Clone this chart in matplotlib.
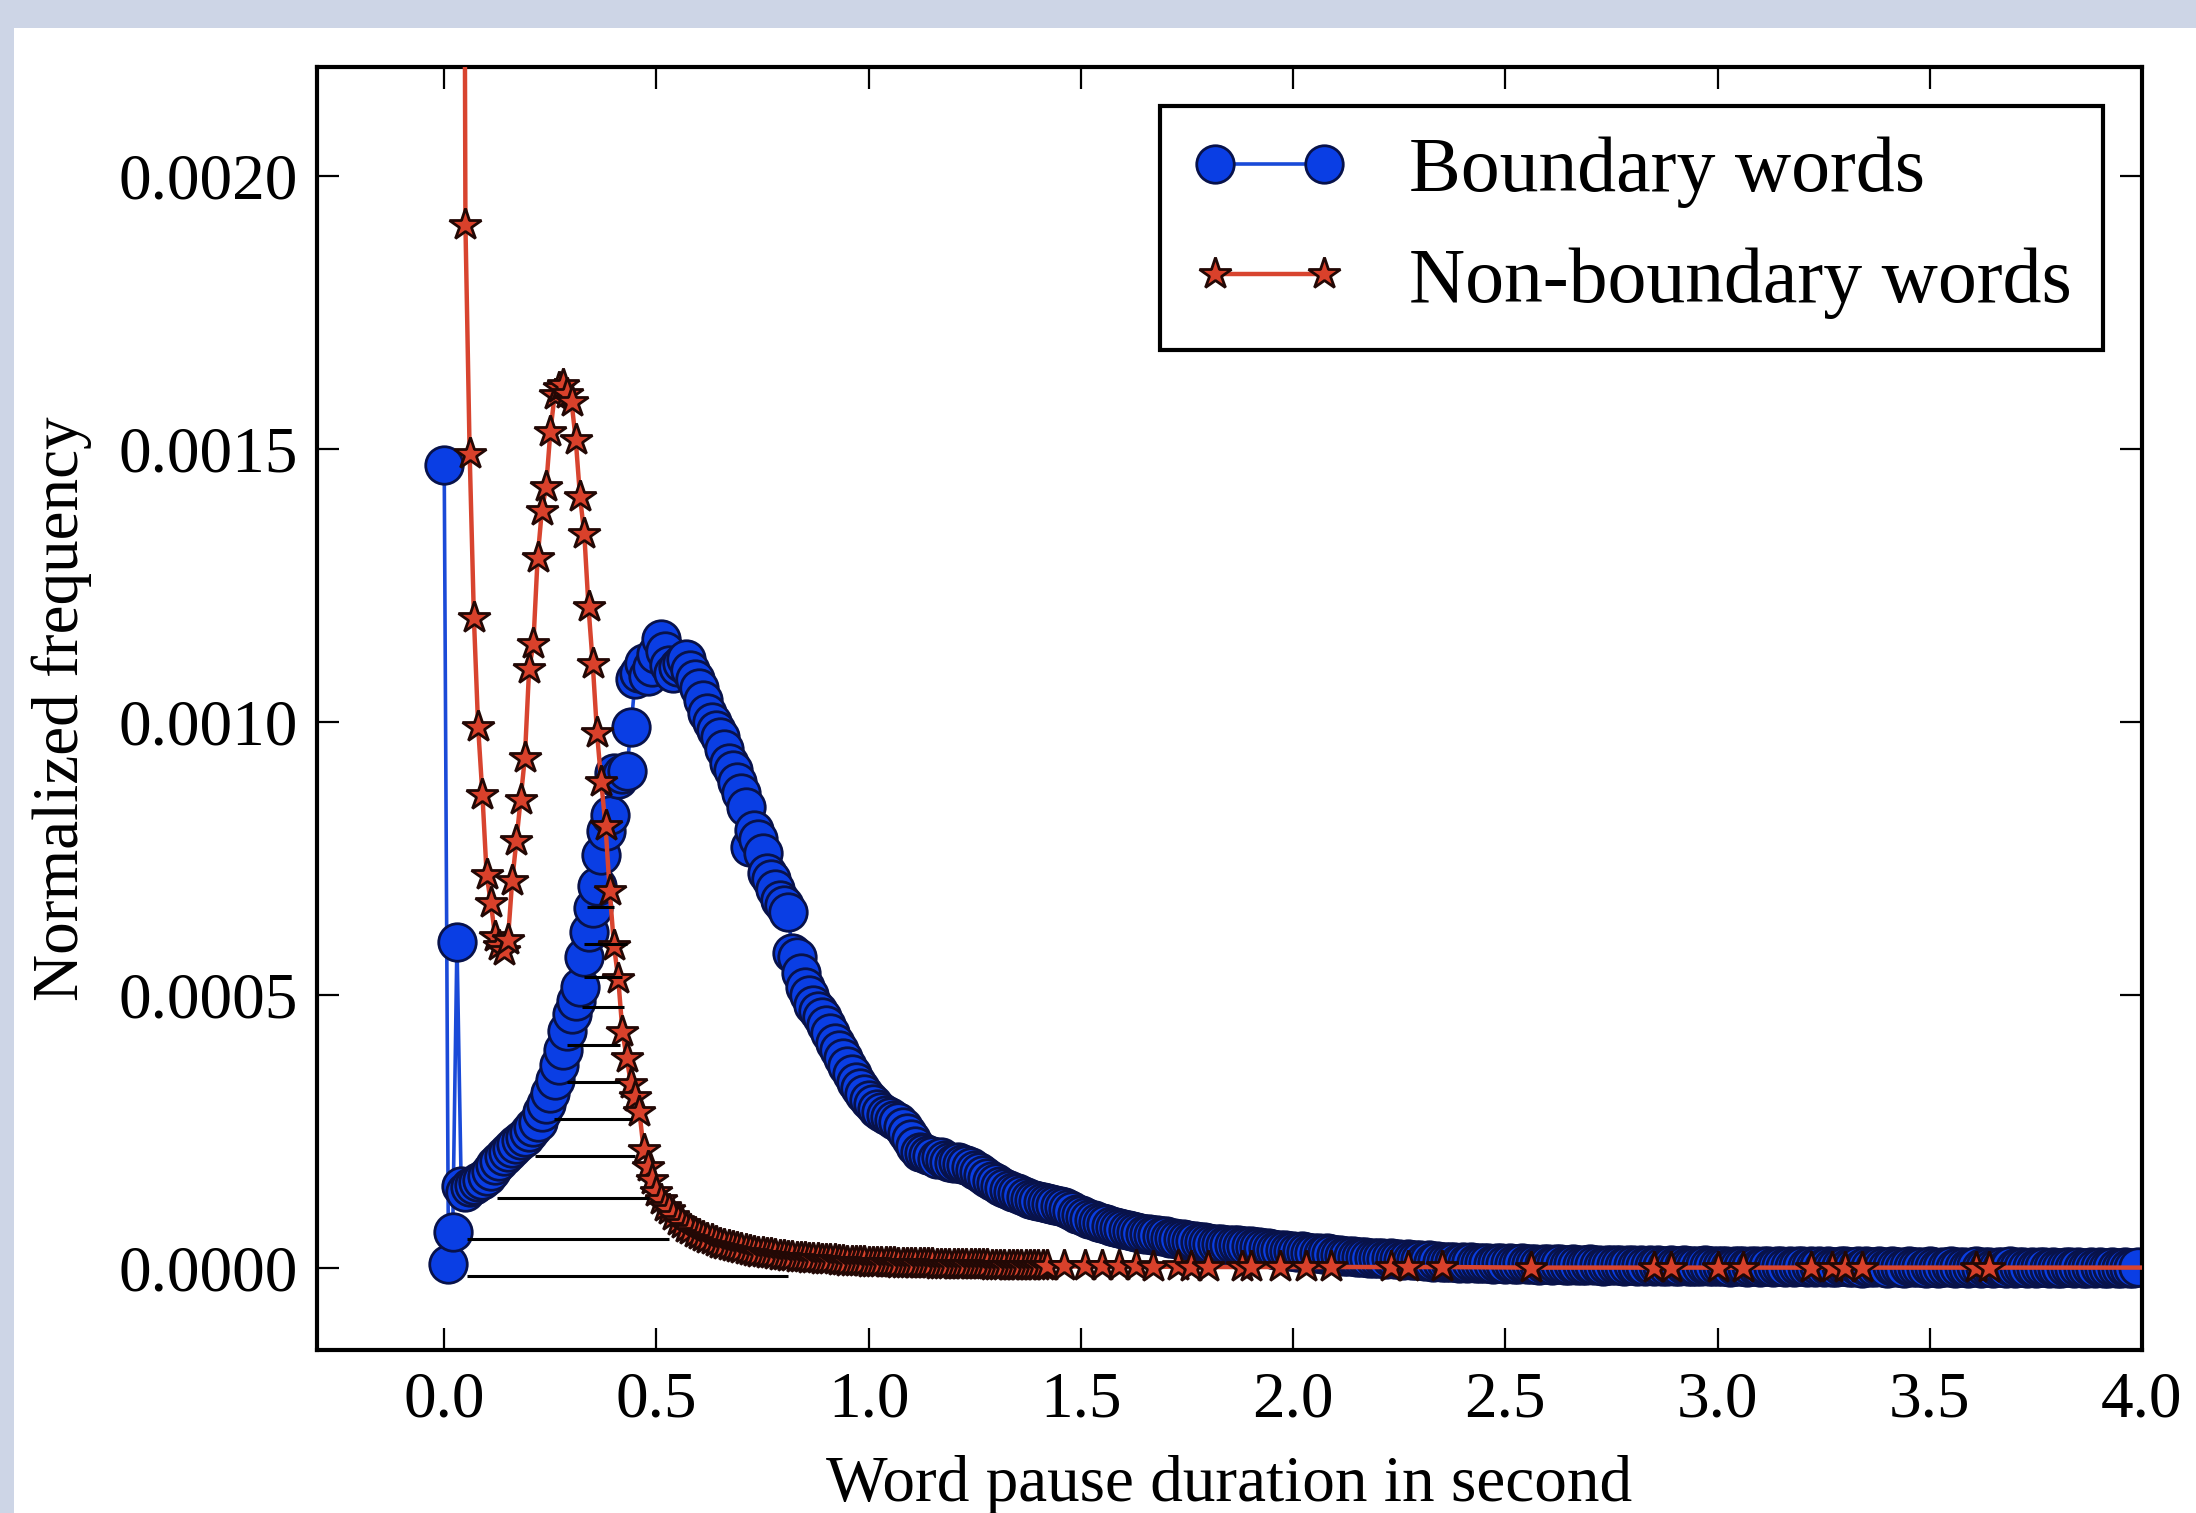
import matplotlib
matplotlib.use('Agg')
import matplotlib.pyplot as plt
import numpy as np
from matplotlib.patches import Rectangle
from matplotlib.ticker import FormatStrFormatter

plt.rcParams['font.family'] = ['Liberation Serif', 'DejaVu Serif']

# normalized frequency in units of 1e-6, one value per 0.01 s bin starting at 0.00 s
boundary_freq = [
    1470, 8, 66, 598, 150, 140, 148, 152, 158, 162,
    168, 178, 188, 197, 205, 212, 220, 228, 234, 240,
    250, 258, 268, 285, 300, 320, 345, 372, 400, 435,
    465, 490, 515, 570, 615, 660, 700, 757, 800, 830,
    907, 895, 905, 910, 990, 1078, 1090, 1109, 1085, 1100,
    1125, 1152, 1130, 1105, 1090, 1100, 1108, 1115, 1095, 1078,
    1062, 1040, 1017, 1000, 985, 972, 950, 925, 913, 890,
    870, 845, 772, 803, 785, 760, 724, 712, 695, 675,
    665, 653, 577, 570, 540, 515, 500, 482, 470, 460,
    445, 430, 412, 400, 385, 370, 355, 340, 330, 318,
    308, 300, 292, 286, 280, 276, 272, 268, 258, 248,
    236, 224, 212, 210, 208, 205, 200, 203, 198, 195,
    192, 195, 190, 188, 185, 180, 176, 170, 165, 160,
    155, 150, 147, 143, 140, 137, 134, 130, 127, 125,
    123, 121, 119, 117, 115, 114, 112, 108, 104, 100,
    97, 94, 90, 88, 85, 82, 80, 78, 75, 73,
    72, 70, 68, 66, 64, 63, 62, 61, 60, 59,
    58, 56, 55, 54, 53, 52, 50, 49, 48, 47,
    46, 45, 45, 44, 43, 43, 42, 42, 41, 41,
    40, 39, 38, 37, 36, 35, 34, 33, 33, 32,
    31, 30, 31, 29, 28, 28, 27, 26, 27, 25,
    24, 24, 23, 22, 23, 21, 20, 21, 19, 19,
    18, 18, 17, 18, 16, 16, 15, 16, 14, 15,
    14, 13, 14, 12, 13, 12, 11, 12, 11, 10,
    11, 10, 12, 9, 10, 9, 10, 8, 9, 10,
    8, 9, 8, 7, 9, 8, 7, 8, 6, 8,
    7, 6, 7, 8, 6, 5, 7, 6, 5, 6,
    7, 5, 6, 4, 6, 5, 5, 6, 4, 5,
    6, 4, 5, 4, 5, 3, 5, 4, 4, 5,
    3, 4, 5, 3, 4, 4, 3, 5, 3, 4,
    3, 4, 3, 2, 4, 3, 3, 2, 4, 3,
    2, 3, 4, 2, 3, 3, 2, 4, 2, 3,
    3, 2, 3, 2, 4, 2, 3, 2, 2, 3,
    3, 2, 2, 3, 1, 3, 2, 2, 3, 2,
    1, 3, 2, 2, 1, 3, 2, 2, 2, 1,
    3, 2, 1, 2, 2, 3, 1, 2, 2, 1,
    2, 3, 1, 2, 2, 1, 2, 2, 1, 3,
    1, 2, 2, 1, 2, 1, 2, 2, 1, 2,
    1, 1, 2, 2, 1, 2, 1, 1, 2, 1,
    2, 1, 1, 2, 1, 1, 2, 1, 1, 2,
]

# non-boundary words, 0.01 s bins starting at 0.03 s
nonboundary_start = 0.03
nonboundary_freq = [
    6500, 4500, 1910, 1490, 1190, 990, 867,
    720, 668, 607, 590, 580, 600, 708, 782, 858, 935,
    1097, 1143, 1300, 1387, 1430, 1531, 1598, 1612, 1617, 1600,
    1586, 1516, 1412, 1345, 1210, 1106, 980, 890, 810, 690,
    590, 530, 433, 384, 338, 313, 286, 216, 185, 161,
    140, 125, 112, 106, 96, 87, 80, 74, 69, 64,
    60, 57, 54, 51, 48, 45, 43, 41, 39, 37,
    35, 33, 31, 30, 28, 27, 26, 25, 24, 23,
    22, 21, 20, 19, 19, 18, 17, 17, 16, 15,
    15, 14, 14, 13, 13, 12, 12, 11, 11, 11,
    10, 10, 10, 9, 9, 9, 9, 8, 8, 8,
    8, 7, 7, 7, 7, 7, 6, 6, 6, 6,
    6, 6, 5, 5, 5, 5, 5, 5, 5, 4,
    4, 4, 4, 4, 4, 4, 4, 4, 3, 4,
    3, 4, 3,
]
# sparse long pauses (only non-empty bins)
nonboundary_tail_x = [1.46, 1.51, 1.55, 1.59, 1.63, 1.67, 1.73, 1.76, 1.80, 1.88,
                      1.90, 1.97, 2.03, 2.09, 2.23, 2.27, 2.35, 2.56, 2.85, 2.89,
                      3.00, 3.06, 3.22, 3.27, 3.30, 3.34, 3.61, 3.64, 4.40]
nonboundary_tail_freq = [3, 3, 3, 3, 3, 2, 3, 2, 2, 2,
                         2, 2, 2, 2, 2, 2, 2, 1, 1, 1,
                         1, 1, 1, 1, 1, 1, 1, 1, 1]

# black horizontal strokes under the peaks
stroke_y = [662, 594, 533, 479, 408, 341, 274, 205, 129, 54, -14]
stroke_x0 = [0.336, 0.329, 0.329, 0.325, 0.289, 0.289, 0.258, 0.215, 0.125, 0.054, 0.054]
stroke_x1 = [0.399, 0.431, 0.419, 0.423, 0.415, 0.415, 0.442, 0.450, 0.482, 0.529, 0.811]

scale = 1e-6
bx = np.arange(len(boundary_freq)) * 0.01
by = np.array(boundary_freq) * scale
rx = np.concatenate([nonboundary_start + np.arange(len(nonboundary_freq)) * 0.01,
                     nonboundary_tail_x])
ry = np.concatenate([nonboundary_freq, nonboundary_tail_freq]) * scale

fig = plt.figure(figsize=(10.98, 7.565), dpi=200, facecolor='#cdd5e6')
fig.patches.append(Rectangle((14 / 2196, 0), 1, 1 - 28 / 1513, transform=fig.transFigure,
                             facecolor='white', edgecolor='none', zorder=-5))
ax = fig.add_axes([0.1443, 0.1077, 0.9754 - 0.1443, 0.9559 - 0.1077])
ax.set_zorder(2)

ax.plot(bx, by, '-o', color='#1a4ad8', lw=1.3, ms=13.5, mfc='#0a3ee4', mec='#08124a',
        mew=1.0, label='Boundary words', zorder=2)
ax.plot(rx, ry, '-*', color='#d8442f', lw=1.6, ms=12, mfc='#d9412b', mec='#220805',
        mew=1.0, label='Non-boundary words', zorder=3)
ax.hlines(np.array(stroke_y) * scale, stroke_x0, stroke_x1, colors='black', lw=1.1, zorder=4)

ax.set_xlim(-0.3, 4.0)
ax.set_ylim(-0.00015, 0.0022)
ax.set_xticks(np.arange(0, 4.01, 0.5))
ax.set_yticks([0.0, 0.0005, 0.0010, 0.0015, 0.0020])
ax.xaxis.set_major_formatter(FormatStrFormatter('%.1f'))
ax.yaxis.set_major_formatter(FormatStrFormatter('%.4f'))
ax.tick_params(direction='in', length=8, width=0.8, top=True, right=True, labelsize=23.5)
ax.tick_params(axis='x', pad=7.5)
ax.tick_params(axis='y', pad=7)
for s in ax.spines.values():
    s.set_linewidth(1.5)

ax.set_xlabel('Word pause duration in second', fontsize=23.5, labelpad=9)
ax.set_ylabel('Normalized frequency', fontsize=23.5, labelpad=9.5)

leg = ax.legend(loc='upper right', fontsize=28, numpoints=2, borderpad=0.4,
                handlelength=2.0, handletextpad=0.8, labelspacing=0.5,
                borderaxespad=0.5, fancybox=False, framealpha=1, edgecolor='black')
leg.get_frame().set_linewidth(1.5)

fig.savefig('out.png', dpi=200, facecolor=fig.get_facecolor())
